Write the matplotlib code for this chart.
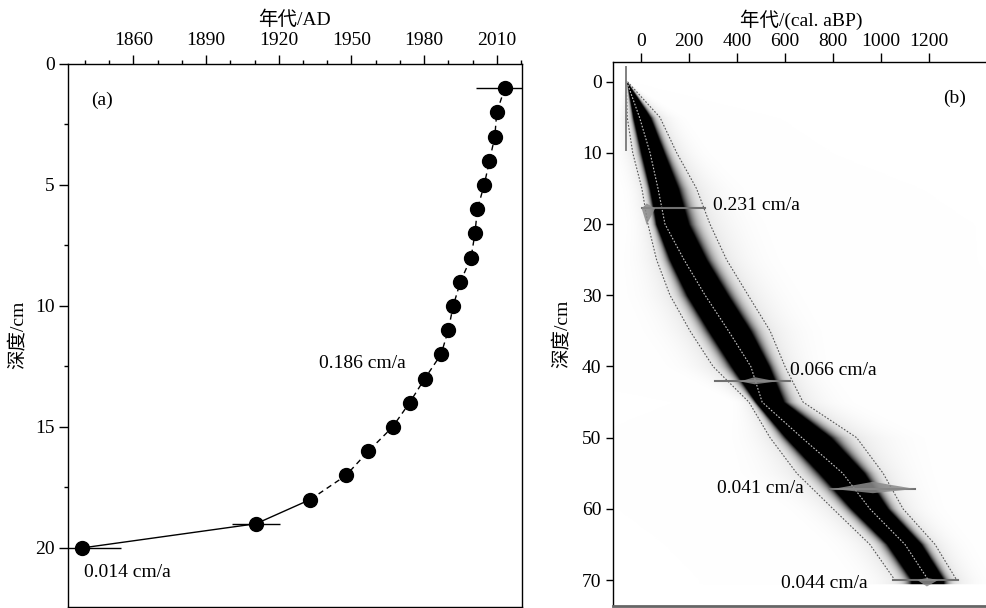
import numpy as np
import matplotlib
matplotlib.use('Agg')
import matplotlib.pyplot as plt
from matplotlib.ticker import MultipleLocator

plt.rcParams['font.family'] = ['Liberation Serif', 'Noto Sans CJK SC']
plt.rcParams['axes.unicode_minus'] = False

# ---------------- Panel (a) data ----------------
depth_a = [1, 2, 3, 4, 5, 6, 7, 8, 9, 10, 11, 12, 13, 14, 15, 16, 17, 18, 19, 20]
year_a = [2013.3, 2010.0, 2009.2, 2007.0, 2004.8, 2002.0, 2001.0, 1999.4, 1995.0,
          1992.0, 1990.0, 1987.0, 1980.3, 1974.0, 1967.0, 1957.0, 1947.8, 1933.0,
          1910.6, 1838.8]
err_a = [12, 0, 0, 0, 0, 0, 0, 0, 0, 0, 0, 0, 0, 0, 0, 0, 0, 0, 10, 16]
xticks_a = [1860, 1890, 1920, 1950, 1980, 2010]
yticks_a = [0, 5, 10, 15, 20]

# ---------------- Panel (b) data ----------------
depth_b = [0, 5, 10, 15, 20, 25, 30, 35, 40, 45, 50, 55, 60, 65, 70]
mean_b = [-58, -5, 39, 72, 101, 180, 268, 365, 458, 505, 670, 840, 953, 1099, 1196]
lower_b = [-60, -56, -33, 5, 30, 66, 122, 205, 301, 450, 538, 649, 800, 953, 1057]
upper_b = [-55, 80, 150, 232, 288, 357, 447, 538, 600, 675, 898, 1008, 1091, 1224, 1314]
date_depth = [17.8, 42.1, 57.2, 70.0]
date_lo = [4, 309, 788, 1049]
date_hi = [267, 621, 1141, 1319]
bump_lo = [4, 413, 800, 1150]
bump_pk = [25, 474, 965, 1190]
bump_hi = [60, 565, 1141, 1237]
bump_up = [0.7, 0.6, 1.0, 0.3]
bump_dn = [2.3, 0.4, 0.6, 0.9]
rate_text = ['0.231 cm/a', '0.066 cm/a', '0.041 cm/a', '0.044 cm/a']
rate_x = [299, 621, 316, 582]
rate_y = [17.4, 40.5, 57.1, 70.5]
surface_age = -61
surface_depth = [-2.1, 9.6]
xticks_b = [0, 200, 400, 600, 800, 1000, 1200]
yticks_b = [0, 10, 20, 30, 40, 50, 60, 70]

W, H = 986, 608
fig = plt.figure(figsize=(W / 100, H / 100), dpi=100)

# ================= Panel (a) =================
axa = fig.add_axes([68 / W, 1 - 606.5 / H, 453.7 / W, 542.5 / H])
axa.plot(year_a[:18], depth_a[:18], color='black', lw=1.0, ls=(0, (4, 3)), zorder=2)
axa.plot(year_a[17:], depth_a[17:], color='black', lw=1.0, zorder=2)
axa.errorbar(year_a, depth_a, xerr=err_a, fmt='none', ecolor='black', elinewidth=1.0,
             capsize=0, zorder=2)
axa.plot(year_a, depth_a, 'o', color='black', ms=10, zorder=3)
axa.set_xlim(1833.0, 2020.3)
axa.set_ylim(22.42, 0)
axa.xaxis.tick_top()
axa.xaxis.set_label_position('top')
axa.set_xticks(xticks_a)
axa.xaxis.set_minor_locator(MultipleLocator(10))
axa.set_yticks(yticks_a)
axa.yaxis.set_minor_locator(MultipleLocator(2.5))
axa.tick_params(axis='both', which='major', direction='out', length=6.5, width=1,
                labelsize=14, pad=3)
axa.tick_params(axis='both', which='minor', direction='out', length=3, width=1)
axa.tick_params(axis='x', which='major', pad=4)
axa.set_xlabel('年代/AD', fontsize=14)
axa.xaxis.set_label_coords(0.499, 1.072)
axa.set_ylabel('深度/cm', fontsize=14)
axa.yaxis.set_label_coords(-0.092, 0.5)
for s in axa.spines.values():
    s.set_linewidth(1.0)
axa.text(1847, 1.5, '(a)', fontsize=14, ha='center', va='center')
axa.text(1954.4, 12.36, '0.186 cm/a', fontsize=14, ha='center', va='center')
axa.text(1857.4, 21.0, '0.014 cm/a', fontsize=14, ha='center', va='center')

# ================= Panel (b) =================
xmin_b, xmax_b = -116.4, 1435.8
ymin_b, ymax_b = -2.81, 73.6
axb = fig.add_axes([612.7 / W, 1 - 605.7 / H, (W - 612.7) / W, 544.0 / H])

ages = np.linspace(xmin_b, xmax_b, 700)
deps = np.linspace(ymin_b, ymax_b, 500)
A, D = np.meshgrid(ages, deps)
m = np.interp(D, depth_b, mean_b)
lo = np.interp(D, depth_b, lower_b)
hi = np.interp(D, depth_b, upper_b)
sl = np.maximum((m - lo) / 1.96, 3.0)
su = np.maximum((hi - m) / 1.96, 3.0)
z = np.where(A < m, (A - m) / sl, (A - m) / su)
dens = np.exp(-0.5 * z ** 2)
core = np.clip(1.6 * dens, 0, 1) ** 3
halo = 0.16 * np.exp(-0.5 * (z / 1.6) ** 2)
v = np.clip(core + halo, 0, 1)
v[(D < 0) | (D > 70.6)] = 0
img = np.ones(A.shape + (3,)) * (1 - v)[..., None]
axb.imshow(img, extent=[xmin_b, xmax_b, ymax_b, ymin_b], aspect='auto',
           interpolation='bilinear', zorder=1)

axb.plot(lower_b, depth_b, color='#555555', lw=0.8, ls=(0, (1.5, 1.5)), zorder=3)
axb.plot(upper_b, depth_b, color='#555555', lw=0.8, ls=(0, (1.5, 1.5)), zorder=3)
axb.plot(mean_b, depth_b, color='#c8c8c8', lw=0.8, ls=(0, (1.5, 1.5)), zorder=3)

axb.plot([surface_age, surface_age], surface_depth, color='#808080', lw=1.4, zorder=4)
for i in range(len(date_depth)):
    d = date_depth[i]
    axb.plot([date_lo[i], date_hi[i]], [d, d], color='#707070', lw=1.5, zorder=4)
    xs = [bump_lo[i], bump_pk[i], bump_hi[i], bump_pk[i]]
    ys = [d, d - bump_up[i], d, d + bump_dn[i]]
    axb.fill(xs, ys, color='#8a8a8a', alpha=0.85, lw=0, zorder=4)

for t, x, y in zip(rate_text, rate_x, rate_y):
    axb.text(x, y, t, fontsize=14, ha='left', va='center', zorder=5)
axb.text(1307, 2.3, '(b)', fontsize=14, ha='center', va='center')

axb.set_xlim(xmin_b, xmax_b)
axb.set_ylim(ymax_b, ymin_b)
axb.xaxis.tick_top()
axb.xaxis.set_label_position('top')
axb.set_xticks(xticks_b)
axb.set_yticks(yticks_b)
axb.tick_params(axis='x', direction='out', length=6.5, width=1, labelsize=14, pad=2)
axb.tick_params(axis='y', direction='out', length=5, width=1, labelsize=14, pad=3)
axb.set_xlabel('年代/(cal. aBP)', fontsize=14)
axb.xaxis.set_label_coords(0.506, 1.066)
axb.set_ylabel('深度/cm', fontsize=14)
axb.yaxis.set_label_coords(-0.112, 0.5)
axb.spines['right'].set_visible(False)
axb.spines['left'].set_linewidth(1.0)
axb.spines['top'].set_linewidth(1.0)
axb.spines['bottom'].set_linewidth(2.0)
axb.spines['bottom'].set_color('#666666')

fig.savefig('out.png', dpi=100)
